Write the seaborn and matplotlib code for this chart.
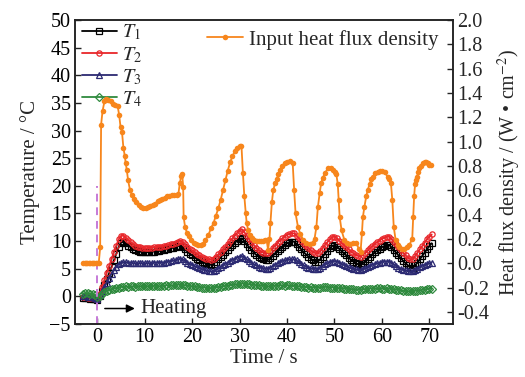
import numpy as np
import matplotlib
matplotlib.use("Agg")
import matplotlib.pyplot as plt
import seaborn as sns

# ---- data ----
# temperature sampling grid: -3 s ... 70.5 s every 0.5 s
time_s = np.arange(-3.0, 70.51, 0.5)

T1 = [-0.3, -0.3, -0.3, -0.4, -0.4, -0.5, -0.6, 0.1, 1.0, 2.0,
      3.1, 4.2, 5.3, 6.5, 7.7, 8.9, 9.7, 9.9, 9.6, 9.2,
      8.9, 8.6, 8.4, 8.2, 8.1, 8.0, 8.0, 8.0, 8.0, 8.1,
      8.1, 8.2, 8.2, 8.3, 8.4, 8.5, 8.6, 8.7, 8.8, 8.9,
      9.1, 9.2, 8.9, 8.5, 8.1, 7.7, 7.4, 7.1, 6.8, 6.5,
      6.3, 6.1, 5.9, 5.8, 5.7, 5.9, 6.3, 6.7, 7.1, 7.5,
      8.0, 8.4, 8.9, 9.3, 9.7, 10.1, 10.4, 10.5, 10.0, 9.4,
      8.9, 8.4, 7.9, 7.5, 7.2, 6.9, 6.7, 6.6, 6.6, 6.9,
      7.3, 7.8, 8.2, 8.6, 9.0, 9.3, 9.6, 9.8, 9.9, 9.9,
      9.5, 9.0, 8.5, 8.0, 7.6, 7.2, 6.8, 6.5, 6.3, 6.3,
      6.7, 7.2, 7.7, 8.2, 8.7, 9.1, 9.3, 9.0, 8.6, 8.2,
      7.8, 7.4, 7.0, 6.6, 6.3, 6.0, 5.8, 5.7, 6.0, 6.4,
      6.8, 7.2, 7.6, 8.0, 8.3, 8.6, 8.9, 9.1, 9.3, 9.3,
      8.9, 8.4, 7.9, 7.4, 6.9, 6.4, 6.0, 5.6, 5.2, 5.1,
      5.6, 6.1, 6.7, 7.3, 7.9, 8.5, 9.1, 9.6]

T2 = [-0.2, -0.2, -0.3, -0.3, -0.3, -0.4, -0.5, 0.5, 1.7, 3.0,
      4.3, 5.5, 6.7, 8.0, 9.2, 10.3, 10.9, 11.0, 10.6, 10.2,
      9.8, 9.5, 9.2, 9.0, 8.9, 8.8, 8.7, 8.7, 8.8, 8.8,
      8.9, 8.9, 9.0, 9.0, 9.1, 9.2, 9.3, 9.4, 9.5, 9.7,
      9.9, 10.1, 9.8, 9.4, 9.0, 8.6, 8.3, 8.0, 7.7, 7.4,
      7.2, 7.0, 6.8, 6.7, 6.6, 6.8, 7.2, 7.6, 8.0, 8.5,
      9.0, 9.5, 10.0, 10.5, 11.0, 11.5, 11.9, 12.1, 11.6, 11.0,
      10.4, 9.8, 9.3, 8.8, 8.4, 8.1, 7.9, 7.8, 7.8, 8.2,
      8.7, 9.2, 9.7, 10.1, 10.5, 10.8, 11.1, 11.3, 11.4, 11.4,
      11.0, 10.5, 10.0, 9.5, 9.1, 8.7, 8.3, 8.0, 7.8, 7.8,
      8.2, 8.7, 9.3, 9.8, 10.3, 10.7, 10.8, 10.5, 10.1, 9.7,
      9.3, 8.9, 8.5, 8.1, 7.8, 7.5, 7.3, 7.2, 7.5, 7.9,
      8.3, 8.7, 9.1, 9.5, 9.8, 10.1, 10.4, 10.6, 10.8, 10.8,
      10.4, 9.9, 9.4, 8.9, 8.4, 7.9, 7.4, 7.0, 6.7, 6.7,
      7.3, 7.9, 8.5, 9.1, 9.7, 10.3, 10.8, 11.2]

T3 = [0.0, 0.0, -0.1, -0.1, -0.2, -0.3, -0.4, 0.2, 0.9, 1.7,
      2.5, 3.3, 4.1, 4.8, 5.4, 5.9, 6.1, 6.2, 6.2, 6.1,
      6.1, 6.0, 6.0, 6.0, 6.0, 6.0, 6.0, 6.0, 6.0, 6.0,
      6.1, 6.1, 6.1, 6.1, 6.1, 6.2, 6.3, 6.4, 6.5, 6.6,
      6.7, 6.8, 6.7, 6.4, 6.1, 5.9, 5.7, 5.5, 5.3, 5.1,
      5.0, 4.8, 4.7, 4.6, 4.5, 4.6, 4.8, 5.1, 5.3, 5.6,
      5.9, 6.1, 6.4, 6.6, 6.8, 7.0, 7.2, 7.3, 7.0, 6.7,
      6.4, 6.1, 5.8, 5.6, 5.4, 5.2, 5.1, 5.0, 5.0, 5.2,
      5.5, 5.7, 6.0, 6.2, 6.4, 6.5, 6.6, 6.7, 6.7, 6.7,
      6.5, 6.2, 5.9, 5.6, 5.4, 5.2, 5.1, 5.0, 5.0, 5.0,
      5.2, 5.5, 5.8, 6.0, 6.2, 6.3, 6.4, 6.3, 6.1, 5.9,
      5.7, 5.5, 5.3, 5.1, 5.0, 4.9, 4.8, 4.8, 4.9, 5.1,
      5.3, 5.5, 5.7, 5.9, 6.0, 6.1, 6.2, 6.3, 6.3, 6.3,
      6.1, 5.8, 5.5, 5.2, 5.0, 4.8, 4.7, 4.6, 4.5, 4.5,
      4.7, 5.0, 5.3, 5.5, 5.7, 5.9, 6.0, 6.1]

T4 = [0.5, 0.6, 0.6, 0.5, 0.5, 0.3, -0.2, 0.1, 0.4, 0.7,
      0.9, 1.1, 1.3, 1.4, 1.5, 1.6, 1.7, 1.7, 1.8, 1.7,
      1.8, 1.8, 1.7, 1.8, 1.8, 1.9, 1.8, 1.8, 1.9, 1.8,
      1.9, 1.9, 1.8, 1.9, 1.9, 2.0, 1.9, 2.0, 2.0, 2.0,
      2.1, 2.1, 2.0, 2.0, 1.9, 1.9, 1.8, 1.8, 1.7, 1.7,
      1.6, 1.6, 1.5, 1.5, 1.5, 1.5, 1.6, 1.7, 1.7, 1.8,
      1.9, 1.9, 2.0, 2.1, 2.2, 2.2, 2.3, 2.3, 2.3, 2.2,
      2.2, 2.1, 2.1, 2.0, 2.0, 1.9, 1.9, 1.9, 1.8, 1.8,
      1.9, 1.9, 1.9, 2.0, 2.0, 1.9, 2.0, 2.0, 1.9, 1.9,
      1.8, 1.8, 1.7, 1.7, 1.7, 1.6, 1.7, 1.6, 1.6, 1.6,
      1.6, 1.7, 1.7, 1.7, 1.6, 1.6, 1.6, 1.5, 1.5, 1.5,
      1.4, 1.4, 1.3, 1.3, 1.3, 1.2, 1.2, 1.2, 1.3, 1.3,
      1.3, 1.4, 1.4, 1.4, 1.5, 1.5, 1.4, 1.4, 1.5, 1.4,
      1.3, 1.3, 1.2, 1.2, 1.1, 1.0, 1.0, 0.9, 0.9, 0.9,
      1.0, 1.0, 1.1, 1.2, 1.2, 1.3, 1.4, 1.4]

# input heat flux density (W/cm^2), own time stamps
flux_t = [-3.0, -2.7, -2.4, -2.1, -1.8, -1.5, -1.2, -0.9, -0.6, -0.3,
          0.0, 0.3, 0.6, 0.8, 1.1, 1.5, 1.9, 2.3, 2.8, 3.3,
          3.8, 4.3, 4.6, 4.9, 5.2, 5.5, 5.8, 6.0, 6.2, 6.5,
          6.9, 7.3, 7.7, 8.2, 8.7, 9.2, 9.7, 10.2, 10.7, 11.2,
          11.7, 12.2, 12.7, 13.2, 13.7, 14.2, 14.7, 15.2, 15.7, 16.2,
          16.7, 17.1, 17.4, 17.7, 17.9, 18.1, 18.2, 18.5, 18.9, 19.3,
          19.8, 20.3, 20.8, 21.3, 21.8, 22.3, 22.8, 23.4, 24.0, 24.5,
          25.0, 25.5, 26.0, 26.5, 27.0, 27.5, 28.0, 28.5, 29.0, 29.5,
          30.0, 30.4, 30.7, 31.0, 31.3, 31.5, 31.8, 32.2, 32.6, 33.1,
          33.6, 34.1, 34.6, 35.0, 35.4, 35.7, 36.0, 36.3, 36.5, 36.8,
          37.1, 37.5, 37.8, 38.2, 38.5, 39.0, 39.5, 40.0, 40.6, 41.2,
          41.5, 41.8, 42.3, 42.8, 43.4, 44.1, 44.8, 45.4, 45.8, 46.2,
          46.5, 46.9, 47.2, 47.5, 48.0, 48.6, 49.2, 49.7, 50.1, 50.4,
          50.7, 50.9, 51.1, 51.5, 52.1, 52.6, 53.2, 53.9, 54.6, 55.1,
          55.5, 55.8, 56.0, 56.3, 56.7, 57.0, 57.4, 57.8, 58.1, 58.6,
          59.1, 59.6, 60.1, 60.6, 61.2, 61.6, 61.9, 62.2, 62.5, 62.9,
          63.3, 63.7, 64.2, 64.7, 65.2, 65.8, 66.4, 66.6, 66.8, 67.0,
          67.2, 67.4, 67.7, 67.9, 68.2, 68.6, 69.0, 69.3, 69.7, 70.0,
          70.4]

flux_q = [0.0, 0.0, 0.0, 0.0, 0.0, 0.0, 0.0, 0.0, 0.0, 0.0,
          0.0, 0.0, 0.13, 1.14, 1.25, 1.33, 1.35, 1.34, 1.33, 1.31,
          1.30, 1.29, 1.22, 1.12, 1.08, 0.95, 0.88, 0.82, 0.77, 0.68,
          0.60, 0.56, 0.53, 0.50, 0.48, 0.46, 0.45, 0.45, 0.46, 0.47,
          0.48, 0.49, 0.51, 0.52, 0.53, 0.54, 0.55, 0.55, 0.56, 0.56,
          0.56, 0.57, 0.66, 0.72, 0.73, 0.63, 0.38, 0.30, 0.25, 0.22,
          0.19, 0.17, 0.16, 0.15, 0.15, 0.16, 0.19, 0.23, 0.29, 0.33,
          0.39, 0.45, 0.52, 0.60, 0.68, 0.76, 0.83, 0.88, 0.92, 0.95,
          0.96, 0.96, 0.74, 0.55, 0.41, 0.33, 0.27, 0.23, 0.21, 0.19,
          0.18, 0.18, 0.18, 0.18, 0.19, 0.19, 0.11, 0.20, 0.33, 0.50,
          0.60, 0.66, 0.69, 0.73, 0.77, 0.80, 0.82, 0.83, 0.84, 0.82,
          0.60, 0.41, 0.30, 0.24, 0.19, 0.17, 0.16, 0.17, 0.20, 0.30,
          0.46, 0.58, 0.66, 0.70, 0.74, 0.78, 0.78, 0.77, 0.75, 0.73,
          0.65, 0.52, 0.38, 0.27, 0.19, 0.17, 0.16, 0.17, 0.17, 0.12,
          0.09, 0.25, 0.38, 0.46, 0.55, 0.60, 0.65, 0.69, 0.71, 0.74,
          0.75, 0.76, 0.76, 0.75, 0.71, 0.69, 0.66, 0.52, 0.30, 0.19,
          0.15, 0.13, 0.12, 0.12, 0.13, 0.15, 0.20, 0.38, 0.55, 0.65,
          0.68, 0.71, 0.75, 0.78, 0.80, 0.82, 0.83, 0.83, 0.82, 0.81,
          0.81]

heat_start = 0.0      # s, heating switched on
dash_top = 20.0       # deg C, top of the dashed marker line

temp_series = [
    ("$T_1$", T1, "#000000", "s"),
    ("$T_2$", T2, "#e8262a", "o"),
    ("$T_3$", T3, "#2c2a72", "^"),
    ("$T_4$", T4, "#2f8a3e", "D"),
]

# ---- style ----
sns.set_theme(style="ticks")
plt.rcParams["font.family"] = ["Liberation Serif", "DejaVu Serif"]
plt.rcParams["mathtext.fontset"] = "stix"
plt.rcParams["axes.linewidth"] = 1.1

fig = plt.figure(figsize=(5.25, 3.77), dpi=100)
ax = fig.add_axes([0.1429, 0.1406, 0.72, 0.8064])

for label, vals, col, mk in temp_series:
    sns.lineplot(x=time_s, y=vals, ax=ax, color=col, label=label,
                 marker=mk, markersize=3.8, markerfacecolor="none",
                 markeredgecolor=col, markeredgewidth=0.9, linewidth=1.3)

ax.vlines(heat_start, -5, dash_top, colors="#c67ad8", linestyles=(0, (4, 3)),
          linewidth=1.4)

ax.annotate("", xy=(8.5, -2.2), xytext=(1.0, -2.2),
            arrowprops=dict(arrowstyle="-|>", color="black", lw=1.1,
                            mutation_scale=12))
ax.text(9.0, -2.2, "Heating", fontsize=15, va="center", ha="left")

ax.set_xlim(-4.7, 75)
ax.set_ylim(-5, 50)
ax.set_xticks(np.arange(0, 71, 10))
ax.set_yticks(np.arange(-5, 51, 5))
ax.set_xlabel("Time / s", fontsize=15, labelpad=1)
ax.set_ylabel("Temperature / °C", fontsize=15, labelpad=7)
ax.tick_params(direction="in", length=4, width=1, labelsize=14.5, pad=3,
               colors="#222222", labelcolor="black")

leg1 = ax.legend(loc="upper left", bbox_to_anchor=(0.01, 1.0), frameon=False,
                 fontsize=14.5, handlelength=1.75, handletextpad=0.25,
                 labelspacing=0.12, borderpad=0.1, borderaxespad=0.05)

ax2 = ax.twinx()
sns.lineplot(x=flux_t, y=flux_q, ax=ax2, color="#f7861c", marker="o",
             markersize=4.0, markeredgewidth=0, linewidth=1.3,
             label="Input heat flux density")
ax2.set_ylim(-0.5, 2.0)
ax2.set_yticks(np.arange(-0.4, 2.01, 0.2))
ax2.yaxis.set_major_formatter(plt.FormatStrFormatter("%.1f"))
ax2.set_ylabel(r"Heat flux density / (W • cm$^{-2}$)", fontsize=14.5,
               labelpad=5)
ax2.tick_params(direction="in", length=4, width=1, labelsize=14.5, pad=3)
ax2.legend(loc="upper right", bbox_to_anchor=(0.975, 0.985), frameon=False,
           fontsize=15, handlelength=1.7, handletextpad=0.3,
           borderpad=0.15, borderaxespad=0.1)

for a in (ax, ax2):
    for sp in a.spines.values():
        sp.set_color("#222222")
        sp.set_linewidth(1.1)

fig.savefig("out.png", dpi=100)
